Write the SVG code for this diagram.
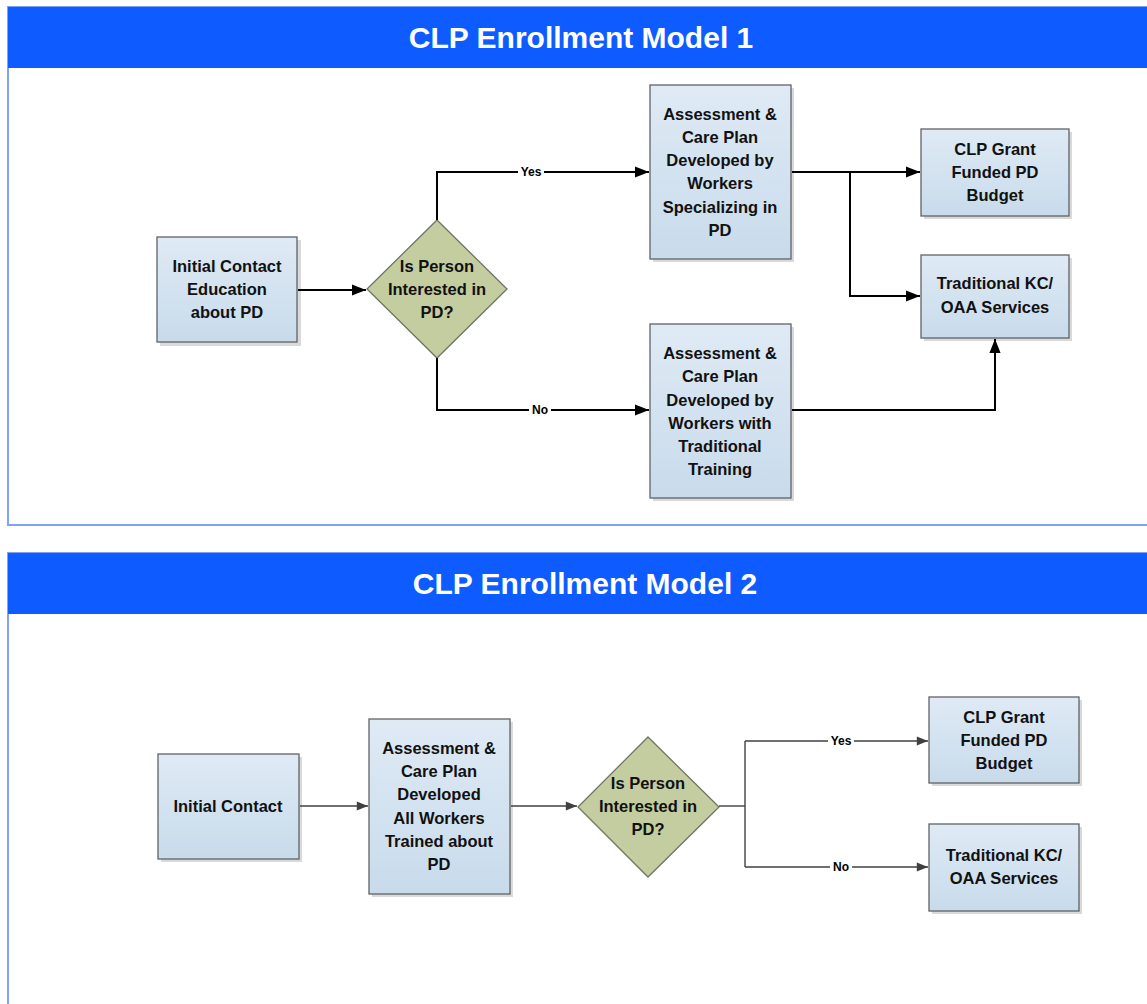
<svg xmlns="http://www.w3.org/2000/svg" width="1147" height="1004" viewBox="0 0 1147 1004">
<defs>
<linearGradient id="boxg" x1="0" y1="0" x2="0" y2="1">
<stop offset="0" stop-color="#dfeaf5"/>
<stop offset="1" stop-color="#c8dbeb"/>
</linearGradient>
<marker id="ah" viewBox="0 0 10 10" refX="10" refY="5" markerWidth="7" markerHeight="7" markerUnits="strokeWidth" orient="auto">
<path d="M0,1 L10,5 L0,9 Z" fill="#000"/>
</marker>
<marker id="ah2" viewBox="0 0 10 10" refX="10" refY="5" markerWidth="9" markerHeight="8" markerUnits="strokeWidth" orient="auto">
<path d="M0,1 L10,5 L0,9 Z" fill="#404040"/>
</marker>
</defs>
<style>
.cont{fill:#fff;stroke:#7fa3f2;stroke-width:2}
.hdr{fill:#0e5bff}
.title{font-family:"Liberation Sans",Arial,sans-serif;font-weight:bold;font-size:30px;fill:#fff;text-anchor:middle}
.box{fill:url(#boxg);stroke:#5f6368;stroke-width:1.3}
.shadow{fill:#d9d9d9}
.dia{fill:#c4cd9f;stroke:#6f7566;stroke-width:1.3}
.t{font-family:"Liberation Sans",Arial,sans-serif;font-weight:bold;font-size:16.5px;fill:#111;text-anchor:middle}
.lbl{font-family:"Liberation Sans",Arial,sans-serif;font-weight:bold;font-size:12px;fill:#000;text-anchor:middle}
.c1{fill:none;stroke:#000;stroke-width:2}
.c2{fill:none;stroke:#404040;stroke-width:1.4}
.lb{fill:#fff}
</style>
<rect x="0" y="0" width="1147" height="1004" fill="#fff"/>
<g id="frame1">
<rect class="cont" x="8" y="7" width="1150" height="518"/>
<rect class="hdr" x="8" y="7" width="1150" height="61"/>
<text class="title" x="581" y="48">CLP Enrollment Model 1</text>
</g>
<g id="frame2">
<rect class="cont" x="8" y="553" width="1150" height="470"/>
<rect class="hdr" x="8" y="553" width="1150" height="61"/>
<text class="title" x="585" y="594">CLP Enrollment Model 2</text>
</g>
<g id="n1_initial">
<rect class="shadow" x="160" y="240" width="141" height="106"/>
<rect class="box" x="157" y="237" width="140" height="105"/>
<text class="t" x="227" y="272">Initial Contact</text>
<text class="t" x="227" y="295">Education</text>
<text class="t" x="227" y="318">about PD</text>
</g>
<g id="n1_decision">
<polygon class="dia" points="437,220 507,289 437,358 367,289"/>
<text class="t" x="437" y="272">Is Person</text>
<text class="t" x="437" y="295">Interested in</text>
<text class="t" x="437" y="318">PD?</text>
</g>
<g id="n1_assess_pd">
<rect class="shadow" x="653" y="88" width="141" height="174"/>
<rect class="box" x="650" y="85" width="141" height="174"/>
<text class="t" x="720" y="120">Assessment &amp;</text>
<text class="t" x="720" y="143">Care Plan</text>
<text class="t" x="720" y="166">Developed by</text>
<text class="t" x="720" y="189">Workers</text>
<text class="t" x="720" y="213">Specializing in</text>
<text class="t" x="720" y="236">PD</text>
</g>
<g id="n1_assess_trad">
<rect class="shadow" x="653" y="327" width="141" height="174"/>
<rect class="box" x="650" y="324" width="141" height="174"/>
<text class="t" x="720" y="359">Assessment &amp;</text>
<text class="t" x="720" y="382">Care Plan</text>
<text class="t" x="720" y="406">Developed by</text>
<text class="t" x="720" y="429">Workers with</text>
<text class="t" x="720" y="452">Traditional</text>
<text class="t" x="720" y="475">Training</text>
</g>
<g id="n1_clp">
<rect class="shadow" x="924" y="132" width="148" height="87"/>
<rect class="box" x="921" y="129" width="148" height="87"/>
<text class="t" x="995" y="155">CLP Grant</text>
<text class="t" x="995" y="178">Funded PD</text>
<text class="t" x="995" y="201">Budget</text>
</g>
<g id="n1_trad">
<rect class="shadow" x="924" y="258" width="148" height="83"/>
<rect class="box" x="921" y="255" width="148" height="83"/>
<text class="t" x="995" y="289">Traditional KC/</text>
<text class="t" x="995" y="313">OAA Services</text>
</g>
<g id="n2_initial">
<rect class="shadow" x="161" y="757" width="141" height="105"/>
<rect class="box" x="158" y="754" width="141" height="105"/>
<text class="t" x="228" y="812">Initial Contact</text>
</g>
<g id="n2_assess">
<rect class="shadow" x="372" y="722" width="141" height="175"/>
<rect class="box" x="369" y="719" width="141" height="175"/>
<text class="t" x="439" y="754">Assessment &amp;</text>
<text class="t" x="439" y="777">Care Plan</text>
<text class="t" x="439" y="800">Developed</text>
<text class="t" x="439" y="824">All Workers</text>
<text class="t" x="439" y="847">Trained about</text>
<text class="t" x="439" y="870">PD</text>
</g>
<g id="n2_decision">
<polygon class="dia" points="648,737 719,807 648,877 578,807"/>
<text class="t" x="648" y="789">Is Person</text>
<text class="t" x="648" y="812">Interested in</text>
<text class="t" x="648" y="835">PD?</text>
</g>
<g id="n2_clp">
<rect class="shadow" x="932" y="700" width="150" height="86"/>
<rect class="box" x="929" y="697" width="150" height="86"/>
<text class="t" x="1004" y="723">CLP Grant</text>
<text class="t" x="1004" y="746">Funded PD</text>
<text class="t" x="1004" y="769">Budget</text>
</g>
<g id="n2_trad">
<rect class="shadow" x="932" y="827" width="150" height="87"/>
<rect class="box" x="929" y="824" width="150" height="87"/>
<text class="t" x="1004" y="861">Traditional KC/</text>
<text class="t" x="1004" y="884">OAA Services</text>
</g>
<g id="connectors">
<path class="c1" d="M298,290 H366" marker-end="url(#ah)"/>
<path class="c1" d="M437,220 V172 H649" marker-end="url(#ah)"/>
<rect class="lb" x="518" y="165" width="26" height="14"/>
<text class="lbl" x="531" y="176">Yes</text>
<path class="c1" d="M437,358 V410 H649" marker-end="url(#ah)"/>
<rect class="lb" x="529" y="403" width="22" height="14"/>
<text class="lbl" x="540" y="414">No</text>
<path class="c1" d="M792,172 H920" marker-end="url(#ah)"/>
<path class="c1" d="M850,172 V296 H920" marker-end="url(#ah)"/>
<path class="c1" d="M792,410 H995 V339" marker-end="url(#ah)"/>
<path class="c2" d="M300,806 H368" marker-end="url(#ah2)"/>
<path class="c2" d="M511,806 H577" marker-end="url(#ah2)"/>
<path class="c2" d="M719,806 H745"/>
<path class="c2" d="M745,741 V867"/>
<path class="c2" d="M745,741 H928" marker-end="url(#ah2)"/>
<rect class="lb" x="828" y="734" width="26" height="14"/>
<text class="lbl" x="841" y="745">Yes</text>
<path class="c2" d="M745,867 H928" marker-end="url(#ah2)"/>
<rect class="lb" x="830" y="860" width="22" height="14"/>
<text class="lbl" x="841" y="871">No</text>
</g>
</svg>
